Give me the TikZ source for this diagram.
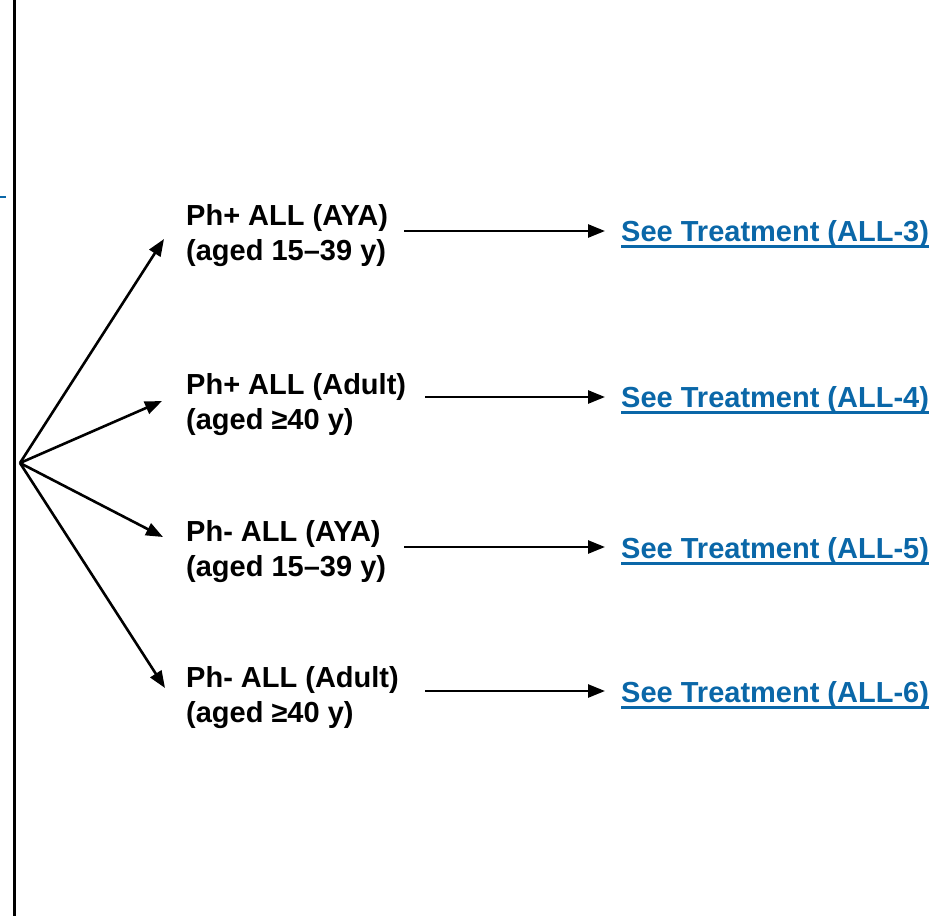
\documentclass[tikz,border=0pt]{standalone}
\usepackage{fontspec}
\setmainfont{Liberation Sans}
\usetikzlibrary{arrows.meta}
\definecolor{linkblue}{HTML}{0A67A8}
\begin{document}
\begin{tikzpicture}[x=1pt,y=-1pt,
  lbl/.style={anchor=west,inner sep=0pt,align=left,font=\fontsize{29}{35}\selectfont\bfseries},
  lnk/.style={anchor=base west,inner sep=0pt,text=linkblue,font=\fontsize{29}{35}\selectfont\bfseries},
  uline/.style={linkblue,line width=2.2pt},
  arr/.style={line width=2.6pt,-{Triangle[length=17pt,width=13pt]}}]
\useasboundingbox (0,0) rectangle (951,916);
\draw[line width=2.8pt] (14.5,0) -- (14.5,916);
\draw[linkblue,line width=2pt] (0,197) -- (6,197);
\coordinate (o) at (20,463);
\node[lbl] (l1) at (186,236) {Ph+ ALL (AYA)\\(aged 15–39 y)};
\node[lbl] (l2) at (186,405) {Ph+ ALL (Adult)\\(aged ≥40 y)};
\node[lbl] (l3) at (186,552) {Ph- ALL (AYA)\\(aged 15–39 y)};
\node[lbl] (l4) at (186,698) {Ph- ALL (Adult)\\(aged ≥40 y)};
\node[lnk] (t1) at (621,241) {See Treatment (ALL-3)};
\node[lnk] (t2) at (621,407) {See Treatment (ALL-4)};
\node[lnk] (t3) at (621,558) {See Treatment (ALL-5)};
\node[lnk] (t4) at (621,702) {See Treatment (ALL-6)};
\foreach \t in {t1,t2,t3,t4}
  \draw[uline] ([yshift=-5.5pt]\t.base west) -- ([yshift=-5.5pt]\t.base east);
\coordinate (e1) at (164,239);
\coordinate (e2) at (162,401);
\coordinate (e3) at (163,537);
\coordinate (e4) at (165,688);
\draw[arr] (o) -- (e1);
\draw[arr] (o) -- (e2);
\draw[arr] (o) -- (e3);
\draw[arr] (o) -- (e4);
\draw[arr] (404,231) -- (605,231);
\draw[arr] (425,397) -- (605,397);
\draw[arr] (404,547) -- (605,547);
\draw[arr] (425,691) -- (605,691);
\end{tikzpicture}
\end{document}
